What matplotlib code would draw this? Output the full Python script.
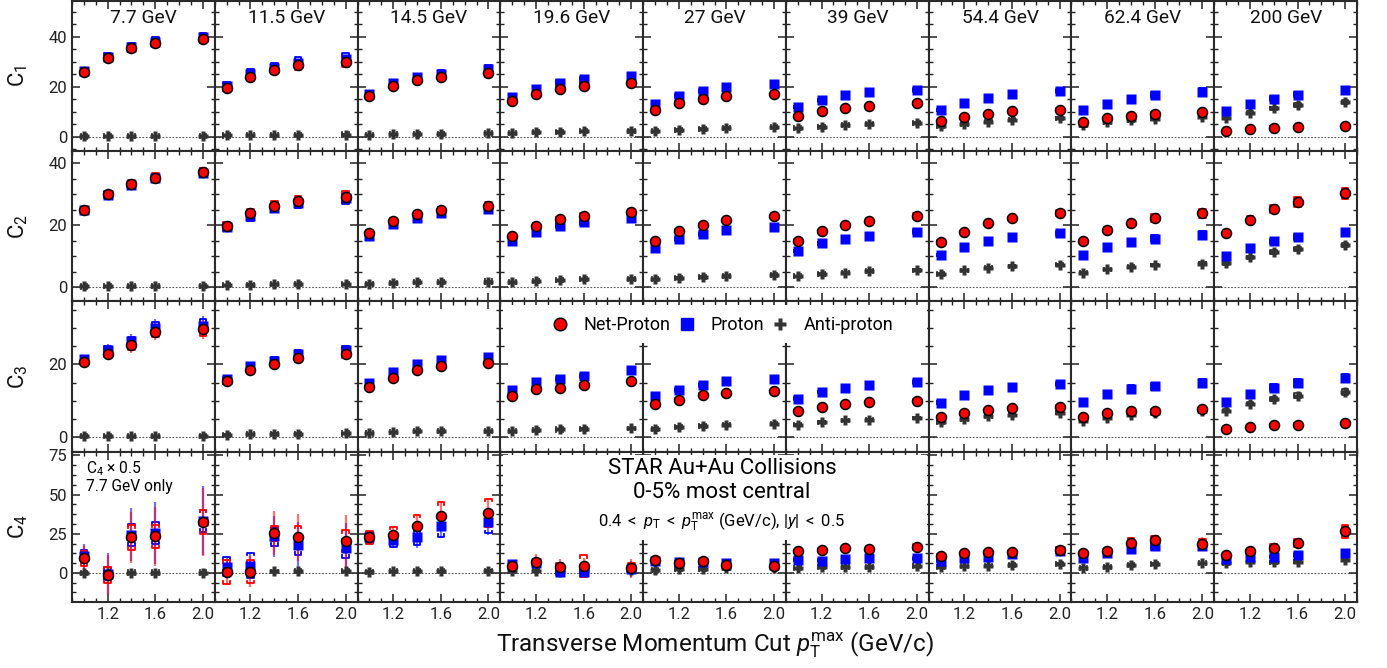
import matplotlib
matplotlib.use('Agg')
import matplotlib.pyplot as plt
import matplotlib.ticker as ticker
from matplotlib.lines import Line2D
from matplotlib.patches import Rectangle
import numpy as np

plt.rcParams['font.family'] = ['Roboto', 'DejaVu Sans']
plt.rcParams['mathtext.fontset'] = 'custom'
plt.rcParams['mathtext.rm'] = 'Roboto'
plt.rcParams['mathtext.it'] = 'Roboto:italic'

# ----------------------------------------------------------------------
# Data
energies = ['7.7', '11.5', '14.5', '19.6', '27', '39', '54.4', '62.4', '200']
pt_max = [1.0, 1.2, 1.4, 1.6, 2.0]

# C1
c1_net = [[26.1, 31.7, 35.5, 37.6, 39.3], [19.7, 24.0, 26.9, 28.7, 30.1], [16.4, 20.4, 22.7, 24.1, 25.6],
          [14.3, 17.3, 19.3, 20.4, 21.6], [10.9, 13.5, 15.2, 16.3, 17.3], [8.4, 10.4, 11.6, 12.4, 13.5],
          [6.3, 8.1, 9.3, 10.3, 10.9], [6.0, 7.5, 8.5, 9.3, 10.0], [2.4, 3.1, 3.6, 4.0, 4.4]]
c1_pro = [[26.4, 32.1, 35.9, 38.0, 39.8], [20.4, 25.3, 27.7, 29.7, 31.2], [17.1, 21.7, 24.0, 25.3, 27.1],
          [16.0, 19.3, 21.7, 23.1, 24.4], [13.3, 16.4, 18.4, 20.1, 21.3], [12.0, 14.7, 16.7, 17.9, 18.9],
          [10.7, 13.6, 15.7, 17.2, 18.5], [10.8, 13.3, 15.3, 16.7, 18.1], [10.3, 13.1, 15.3, 16.9, 18.7]]
c1_anti = [[0.2, 0.25, 0.3, 0.3, 0.35], [0.6, 0.7, 0.8, 0.85, 0.95], [0.8, 1.0, 1.2, 1.3, 1.4],
           [1.6, 1.9, 2.1, 2.3, 2.5], [2.3, 2.9, 3.3, 3.6, 3.9], [3.5, 4.1, 4.8, 5.2, 5.6],
           [4.3, 5.3, 6.1, 6.9, 7.5], [4.8, 5.9, 6.7, 7.3, 8.0], [7.7, 9.7, 11.5, 12.7, 14.1]]
c1_net_sys = [[1.0, 1.3, 1.5, 1.7, 1.8], [1.3, 1.7, 1.8, 2.0, 2.2], [1.0, 1.2, 1.3, 1.4, 1.5],
              [0.7, 0.8, 0.9, 1.0, 1.0], [0.7, 0.8, 0.8, 0.9, 0.9], [0.5, 0.5, 0.6, 0.6, 0.7],
              [0.4, 0.5, 0.5, 0.5, 0.6], [0.5, 0.6, 0.6, 0.7, 0.8], [0.3, 0.3, 0.3, 0.4, 0.4]]
c1_pro_sys = [[1.0, 1.3, 1.5, 1.7, 1.8], [1.4, 1.8, 1.9, 2.1, 2.4], [0.9, 1.2, 1.3, 1.4, 1.5],
              [0.6, 0.8, 0.9, 1.0, 1.1], [0.6, 0.7, 0.8, 0.9, 1.0], [0.5, 0.6, 0.6, 0.7, 0.8],
              [0.5, 0.5, 0.6, 0.6, 0.8], [0.8, 1.0, 1.1, 1.2, 1.4], [0.6, 0.8, 1.0, 1.1, 1.2]]
c1_anti_sys = [[0.1, 0.1, 0.1, 0.1, 0.1], [0.1, 0.1, 0.1, 0.1, 0.1], [0.1, 0.1, 0.1, 0.1, 0.1],
               [0.1, 0.1, 0.1, 0.1, 0.2], [0.1, 0.2, 0.2, 0.2, 0.2], [0.2, 0.2, 0.2, 0.2, 0.3],
               [0.2, 0.2, 0.3, 0.3, 0.3], [0.3, 0.3, 0.4, 0.4, 0.5], [0.4, 0.5, 0.6, 0.7, 0.8]]
c1_net_stat = [[0.3, 0.4, 0.5, 0.5, 0.6], [0.3, 0.4, 0.4, 0.5, 0.5], [0.2, 0.3, 0.3, 0.3, 0.4],
               [0.2, 0.2, 0.2, 0.3, 0.3], [0.1, 0.2, 0.2, 0.2, 0.2], [0.1, 0.1, 0.1, 0.1, 0.2],
               [0.1, 0.1, 0.1, 0.1, 0.1], [0.1, 0.1, 0.1, 0.1, 0.1], [0.1, 0.1, 0.1, 0.1, 0.1]]
c1_pro_stat = c1_net_stat

# C2
c2_net = [[24.9, 30.0, 33.3, 35.4, 37.1], [19.9, 23.9, 26.2, 27.8, 29.2], [17.6, 21.4, 23.6, 24.9, 26.2],
          [16.6, 19.9, 22.0, 23.1, 24.3], [14.9, 18.1, 20.1, 21.6, 22.9], [14.9, 18.0, 20.1, 21.3, 22.9],
          [14.5, 17.9, 20.6, 22.3, 23.9], [14.8, 18.3, 20.6, 22.4, 23.9], [17.5, 21.8, 25.2, 27.6, 30.3]]
c2_pro = [[24.8, 29.8, 33.0, 35.2, 37.0], [19.3, 23.0, 25.7, 27.3, 28.7], [16.6, 20.3, 22.5, 23.9, 25.2],
          [14.9, 17.9, 19.8, 21.0, 22.3], [12.7, 15.5, 17.2, 18.4, 19.5], [11.6, 14.1, 15.7, 16.6, 17.9],
          [10.4, 13.0, 14.8, 16.1, 17.4], [10.4, 12.9, 14.5, 15.7, 17.0], [10.0, 12.8, 14.8, 16.2, 17.9]]
c2_anti = [[0.2, 0.25, 0.3, 0.3, 0.35], [0.7, 0.8, 0.9, 0.95, 1.0], [1.1, 1.4, 1.6, 1.7, 1.8],
           [1.7, 2.0, 2.2, 2.5, 2.6], [2.5, 3.0, 3.3, 3.6, 3.9], [3.5, 4.3, 4.7, 5.2, 5.5],
           [4.3, 5.4, 6.2, 6.8, 7.3], [4.7, 5.7, 6.6, 7.1, 7.6], [7.7, 9.7, 11.3, 12.4, 13.6]]
c2_net_sys = [[0.8, 1.0, 1.2, 1.4, 1.5], [1.3, 1.5, 1.5, 1.6, 1.8], [0.8, 0.9, 1.0, 1.1, 1.2],
              [0.7, 0.8, 0.8, 0.9, 1.0], [0.6, 0.6, 0.7, 0.7, 0.9], [0.5, 0.6, 0.6, 0.7, 1.0],
              [0.6, 0.7, 0.7, 0.7, 1.0], [1.0, 1.1, 1.2, 1.3, 1.5], [1.0, 1.2, 1.3, 1.6, 1.7]]
c2_pro_sys = [[0.8, 1.0, 1.2, 1.3, 1.4], [1.3, 1.5, 1.5, 1.6, 1.8], [0.8, 0.9, 1.0, 1.1, 1.2],
              [0.6, 0.7, 0.8, 0.8, 0.9], [0.5, 0.6, 0.6, 0.7, 0.8], [0.4, 0.4, 0.5, 0.6, 0.8],
              [0.4, 0.4, 0.5, 0.5, 0.8], [0.8, 0.8, 0.9, 1.0, 1.1], [0.6, 0.7, 0.8, 0.9, 1.0]]
c2_anti_sys = [[0.1, 0.1, 0.1, 0.1, 0.1], [0.1, 0.1, 0.1, 0.1, 0.1], [0.1, 0.1, 0.1, 0.1, 0.1],
               [0.1, 0.1, 0.1, 0.1, 0.2], [0.1, 0.2, 0.2, 0.2, 0.2], [0.2, 0.2, 0.2, 0.2, 0.3],
               [0.2, 0.2, 0.3, 0.3, 0.3], [0.3, 0.3, 0.3, 0.4, 0.4], [0.4, 0.5, 0.6, 0.6, 0.7]]
c2_net_stat = c1_net_stat
c2_pro_stat = c1_net_stat

# C3
c3_net = [[20.5, 22.9, 25.2, 29.0, 29.6], [15.3, 18.4, 20.1, 21.7, 22.8], [13.8, 16.3, 18.5, 19.5, 20.4],
          [11.2, 13.1, 13.4, 14.2, 15.5], [9.1, 10.3, 11.5, 12.2, 12.6], [7.2, 8.3, 9.1, 9.6, 10.0],
          [5.5, 6.7, 7.4, 7.9, 8.3], [5.5, 6.6, 7.1, 7.2, 7.8], [2.1, 2.7, 3.2, 3.4, 3.8]]
c3_pro = [[21.5, 24.0, 26.3, 30.0, 30.6], [16.0, 19.5, 21.0, 22.8, 24.0], [14.9, 17.9, 20.2, 21.1, 22.0],
          [12.9, 15.1, 16.0, 16.8, 18.3], [11.3, 13.0, 14.4, 15.3, 16.1], [10.6, 12.4, 13.5, 14.4, 15.2],
          [9.5, 11.6, 12.9, 13.8, 14.6], [9.7, 11.9, 13.3, 14.0, 14.8], [9.6, 11.9, 13.6, 14.9, 16.3]]
c3_anti = [[0.2, 0.25, 0.3, 0.3, 0.35], [0.7, 0.8, 0.9, 0.95, 1.0], [1.0, 1.4, 1.6, 1.7, 1.6],
           [1.6, 1.9, 2.1, 2.3, 2.4], [2.3, 2.8, 3.1, 3.4, 3.7], [3.4, 4.1, 4.6, 4.8, 5.2],
           [4.1, 5.0, 5.7, 6.2, 6.7], [4.4, 5.3, 6.2, 6.6, 7.1], [7.3, 9.2, 10.4, 11.4, 12.4]]
c3_net_sys = [[0.8, 1.0, 1.2, 1.5, 1.8], [0.7, 0.9, 0.9, 1.0, 1.0], [0.6, 0.7, 0.7, 0.8, 0.8],
              [0.5, 0.5, 0.5, 0.6, 0.6], [0.4, 0.4, 0.5, 0.5, 0.5], [0.3, 0.3, 0.4, 0.4, 0.4],
              [0.3, 0.3, 0.3, 0.4, 0.4], [0.4, 0.4, 0.5, 0.5, 0.6], [0.2, 0.2, 0.2, 0.3, 0.3]]
c3_pro_sys = [[0.8, 1.0, 1.2, 1.5, 1.8], [0.6, 0.8, 0.9, 1.0, 1.0], [0.6, 0.7, 0.8, 0.8, 0.8],
              [0.5, 0.5, 0.6, 0.6, 0.7], [0.4, 0.5, 0.6, 0.6, 0.6], [0.4, 0.4, 0.5, 0.5, 0.6],
              [0.3, 0.4, 0.4, 0.5, 0.5], [0.8, 0.9, 1.0, 1.0, 1.1], [0.7, 0.8, 0.9, 1.0, 1.1]]
c3_anti_sys = c2_anti_sys
c3_net_stat = [[1.0, 1.5, 2.0, 2.3, 2.7], [0.5, 0.6, 0.7, 0.8, 0.9], [0.4, 0.5, 0.5, 0.6, 0.6],
               [0.3, 0.3, 0.4, 0.4, 0.4], [0.2, 0.3, 0.3, 0.3, 0.3], [0.2, 0.2, 0.2, 0.2, 0.3],
               [0.2, 0.2, 0.2, 0.2, 0.2], [0.2, 0.2, 0.2, 0.2, 0.3], [0.1, 0.1, 0.1, 0.2, 0.2]]
c3_pro_stat = [[1.0, 1.6, 2.0, 2.4, 2.8], [0.5, 0.6, 0.7, 0.8, 0.9], [0.4, 0.5, 0.5, 0.6, 0.6],
               [0.3, 0.3, 0.4, 0.4, 0.4], [0.2, 0.3, 0.3, 0.3, 0.3], [0.2, 0.2, 0.2, 0.2, 0.3],
               [0.2, 0.2, 0.2, 0.2, 0.2], [0.2, 0.2, 0.2, 0.2, 0.3], [0.1, 0.1, 0.1, 0.2, 0.2]]

# C4 (7.7 GeV scaled by 0.5)
c4_net = [[9.2, -1.3, 22.6, 23.3, 32.5], [0.6, 0.8, 25.2, 22.9, 20.1], [22.6, 24.4, 30.1, 36.1, 38.3],
          [4.7, 6.8, 3.6, 4.3, 3.0], [8.3, 6.2, 7.7, 5.1, 4.5], [13.7, 14.9, 15.8, 15.2, 16.7],
          [10.9, 12.4, 13.3, 13.5, 14.7], [12.4, 14.1, 19.0, 20.7, 18.6], [11.5, 14.1, 15.8, 19.0, 26.5]]
c4_pro = [[10.5, -0.5, 24.4, 25.4, 33.3], [4.0, 4.7, 23.3, 17.5, 15.8], [22.8, 21.2, 22.6, 30.1, 32.5],
          [5.8, 6.2, 0.8, 0.8, 2.6], [7.9, 6.8, 6.8, 6.2, 6.2], [8.3, 7.9, 9.0, 9.4, 9.2],
          [7.9, 9.4, 10.4, 12.0, 14.1], [9.4, 12.6, 15.4, 16.9, 16.9], [8.8, 10.4, 10.4, 11.5, 12.6]]
c4_anti = [[0.1, 0.1, 0.2, 0.2, 0.2], [0.8, 0.9, 0.9, 1.0, 1.0], [0.8, 1.0, 1.1, 1.2, 1.3],
           [1.2, 1.5, 1.3, 1.5, 1.6], [1.9, 2.3, 2.6, 3.0, 3.4], [3.0, 3.6, 3.8, 4.0, 4.2],
           [3.6, 4.3, 4.7, 5.1, 5.6], [3.2, 3.8, 5.1, 5.6, 6.2], [6.2, 7.2, 6.8, 7.2, 8.3]]
c4_net_sys = [[4.5, 5.3, 7.8, 7.5, 7.8], [7.5, 7.5, 5.0, 7.0, 7.0], [4.0, 5.0, 7.0, 9.0, 9.0],
              [1.0, 2.0, 3.0, 7.0, 3.0], [1.0, 1.0, 1.0, 1.0, 2.0], [1.0, 1.0, 1.0, 1.0, 2.0],
              [1.0, 1.0, 1.0, 1.0, 2.0], [1.5, 2.0, 3.0, 3.0, 3.0], [1.5, 2.0, 2.5, 2.5, 4.0]]
c4_pro_sys = [[4.0, 4.0, 7.0, 7.0, 7.0], [6.0, 8.0, 6.0, 6.0, 6.0], [3.5, 4.5, 5.0, 7.0, 7.0],
              [2.0, 2.0, 2.0, 2.0, 2.0], [1.0, 1.0, 1.0, 1.0, 1.5], [1.0, 1.0, 1.0, 1.0, 1.0],
              [1.0, 1.0, 1.0, 1.0, 1.5], [1.0, 1.5, 2.0, 2.0, 2.5], [1.0, 1.0, 1.0, 1.5, 1.5]]
c4_anti_sys = [[0.2, 0.2, 0.2, 0.2, 0.2], [0.3, 0.3, 0.3, 0.3, 0.3], [0.3, 0.3, 0.3, 0.3, 0.3],
               [0.3, 0.3, 0.3, 0.3, 0.3], [0.3, 0.3, 0.3, 0.3, 0.3], [0.3, 0.3, 0.3, 0.3, 0.3],
               [0.4, 0.4, 0.4, 0.4, 0.4], [0.4, 0.4, 0.4, 0.4, 0.4], [0.6, 0.7, 0.7, 0.8, 0.9]]
c4_net_stat = [[8.0, 13.0, 16.5, 19.0, 22.0], [8.0, 10.0, 14.0, 15.0, 17.0], [3.0, 5.0, 7.0, 9.0, 9.0],
               [2.0, 5.0, 5.0, 5.0, 6.0], [1.0, 1.5, 2.0, 2.0, 3.0], [1.0, 1.0, 1.0, 1.0, 1.5],
               [1.0, 1.0, 1.0, 1.0, 1.5], [1.5, 2.0, 3.0, 3.5, 4.0], [1.5, 2.0, 3.0, 3.5, 4.0]]
c4_pro_stat = [[8.0, 13.0, 17.0, 20.0, 22.0], [6.0, 8.0, 13.0, 15.0, 16.0], [3.0, 5.0, 7.0, 8.0, 8.0],
               [2.0, 4.0, 4.0, 4.0, 5.0], [1.0, 1.5, 2.0, 2.0, 2.5], [1.0, 1.0, 1.0, 1.0, 1.0],
               [1.0, 1.0, 1.0, 1.0, 1.0], [1.0, 1.5, 2.0, 2.5, 3.0], [1.0, 1.0, 1.5, 1.5, 2.0]]

rows = [
    (c1_net, c1_pro, c1_anti, c1_net_sys, c1_pro_sys, c1_anti_sys, c1_net_stat, c1_pro_stat),
    (c2_net, c2_pro, c2_anti, c2_net_sys, c2_pro_sys, c2_anti_sys, c2_net_stat, c2_pro_stat),
    (c3_net, c3_pro, c3_anti, c3_net_sys, c3_pro_sys, c3_anti_sys, c3_net_stat, c3_pro_stat),
    (c4_net, c4_pro, c4_anti, c4_net_sys, c4_pro_sys, c4_anti_sys, c4_net_stat, c4_pro_stat),
]
row_labels = ['C$_1$', 'C$_2$', 'C$_3$', 'C$_4$']
row_ylim = [(-5.6, 54.4), (-4.6, 44.0), (-4.0, 37.3), (-18.6, 77.4)]
row_major = [20, 20, 20, 25]
row_minor = [5, 5, 5, 6.25]

red = '#ff0000'
blue = '#0000ff'
gray = '#333333'


def draw_sys(ax, x, y, err, color, hw, leg):
    # bracket style systematic error boxes
    xs, ys = [], []
    for xi, yi, ei in zip(x, y, err):
        for s in (1, -1):
            yc = yi + s * ei
            xs += [xi - hw, xi - hw, xi + hw, xi + hw, np.nan]
            ys += [yc - s * leg, yc, yc, yc - s * leg, np.nan]
    ax.plot(xs, ys, color=color, lw=1.3, zorder=3)


fig = plt.figure(figsize=(13.87, 6.68), dpi=100)
axes = fig.subplots(4, 9, sharex=True, gridspec_kw={'hspace': 0, 'wspace': 0})
fig.subplots_adjust(left=0.0519, right=0.9784, top=0.999, bottom=0.0988)

for r in range(4):
    net, pro, anti, net_sys, pro_sys, anti_sys, net_stat, pro_stat = rows[r]
    ylo, yhi = row_ylim[r]
    leg = 0.016 * (yhi - ylo)
    for c in range(9):
        ax = axes[r, c]
        ax.axhline(0, color='#555555', lw=0.8, ls=(0, (1.5, 1.5)), zorder=1)

        # anti-proton
        draw_sys(ax, pt_max, anti[c], anti_sys[c], gray, 0.028, leg)
        ax.plot(pt_max, anti[c], ls='none', marker='P', ms=6.8, color=gray, mec='none', zorder=4)
        # proton
        ax.errorbar(pt_max, pro[c], yerr=pro_stat[c], fmt='none', ecolor=blue, elinewidth=1.6,
                    alpha=0.55, zorder=3)
        draw_sys(ax, pt_max, pro[c], pro_sys[c], blue, 0.028, leg)
        ax.plot(pt_max, pro[c], ls='none', marker='s', ms=6.5, color=blue, mec='none', zorder=5)
        # net-proton
        ax.errorbar(pt_max, net[c], yerr=net_stat[c], fmt='none', ecolor=red, elinewidth=1.6,
                    alpha=0.55, zorder=3)
        draw_sys(ax, pt_max, net[c], net_sys[c], red, 0.028, leg)
        ax.plot(pt_max, net[c], ls='none', marker='o', ms=7.2, mfc=red, mec='black', mew=1.1, zorder=6)

        ax.set_xlim(0.9, 2.1)
        ax.set_ylim(ylo, yhi)
        ax.xaxis.set_major_locator(ticker.MultipleLocator(0.4))
        ax.xaxis.set_minor_locator(ticker.MultipleLocator(0.1))
        ax.yaxis.set_major_locator(ticker.MultipleLocator(row_major[r]))
        ax.yaxis.set_minor_locator(ticker.MultipleLocator(row_minor[r]))
        ax.xaxis.set_major_formatter(ticker.FormatStrFormatter('%.1f'))

        ax.tick_params(
            axis='both',
            which='both',
            direction='in',
            top=True,
            right=True,
            labelsize=12,
            labelcolor='#222222',
            color='#222222')
        ax.tick_params(axis='both', which='major', length=6, width=1.1)
        ax.tick_params(axis='both', which='minor', length=3, width=1.0)
        if c != 0:
            ax.tick_params(axis='y', labelleft=False)
        for sp in ax.spines.values():
            sp.set_linewidth(1.5)
            sp.set_color('#2a2a2a')

        if r == 0:
            ax.text(0.5, 0.885, energies[c] + ' GeV', transform=ax.transAxes,
                    ha='center', va='center', fontsize=13.8, color='#111111')

    yc = 0.5 * (axes[r, 0].get_position().y0 + axes[r, 0].get_position().y1)
    fig.text(18 / 1387, yc, row_labels[r], rotation=90, ha='center', va='center', fontsize=16,
             color='#111111')

axes[3, 0].text(0.10, 0.885, r'C$_4$ $\times$ 0.5', transform=axes[3, 0].transAxes,
                ha='left', va='center', fontsize=11.2)
axes[3, 0].text(0.10, 0.765, '7.7 GeV only', transform=axes[3, 0].transAxes,
                ha='left', va='center', fontsize=11.2)

# white boxes that hide the panel borders behind legend and labels
fig.patches.append(Rectangle((503 / 1387, 1 - 343 / 668), 424 / 1387, 38 / 668,
                             transform=fig.transFigure, facecolor='white', edgecolor='none', zorder=2))
fig.patches.append(Rectangle((503 / 1387, 1 - 540 / 668), 424 / 1387, 85 / 668,
                             transform=fig.transFigure, facecolor='white', edgecolor='none', zorder=2))

handles = [Line2D([], [], ls='none', marker='o', ms=9, mfc=red, mec='black', mew=1.1),
           Line2D([], [], ls='none', marker='s', ms=8.5, color=blue),
           Line2D([], [], ls='none', marker='P', ms=8.5, color=gray, mec='none')]
lg = fig.legend(handles, ['Net-Proton', 'Proton', 'Anti-proton'], ncol=3, loc='center',
                bbox_to_anchor=(722 / 1387, 1 - 325 / 668), frameon=False, fontsize=13,
                handlelength=1.0, handletextpad=0.8, columnspacing=0.4)
lg.set_zorder(4)

fig.text(722 / 1387, 1 - 468 / 668, 'STAR Au+Au Collisions', ha='center', va='center',
         fontsize=16, zorder=4)
fig.text(722 / 1387, 1 - 493 / 668, '0-5% most central', ha='center', va='center',
         fontsize=16, zorder=4)
fig.text(722 / 1387, 1 - 522 / 668,
         r'$0.4\;<\;p_{\mathrm{T}}\;<\;p_{\mathrm{T}}^{\mathrm{max}}$ (GeV/c), $|y|\;<\;0.5$',
         ha='center', va='center', fontsize=12, zorder=4)

fig.text(715 / 1387, 1 - 645 / 668,
         r'Transverse Momentum Cut $p_{\mathrm{T}}^{\mathrm{max}}$ (GeV/c)',
         ha='center', va='center', fontsize=17.5, color='#111111')

plt.savefig('out.png', dpi=100)
